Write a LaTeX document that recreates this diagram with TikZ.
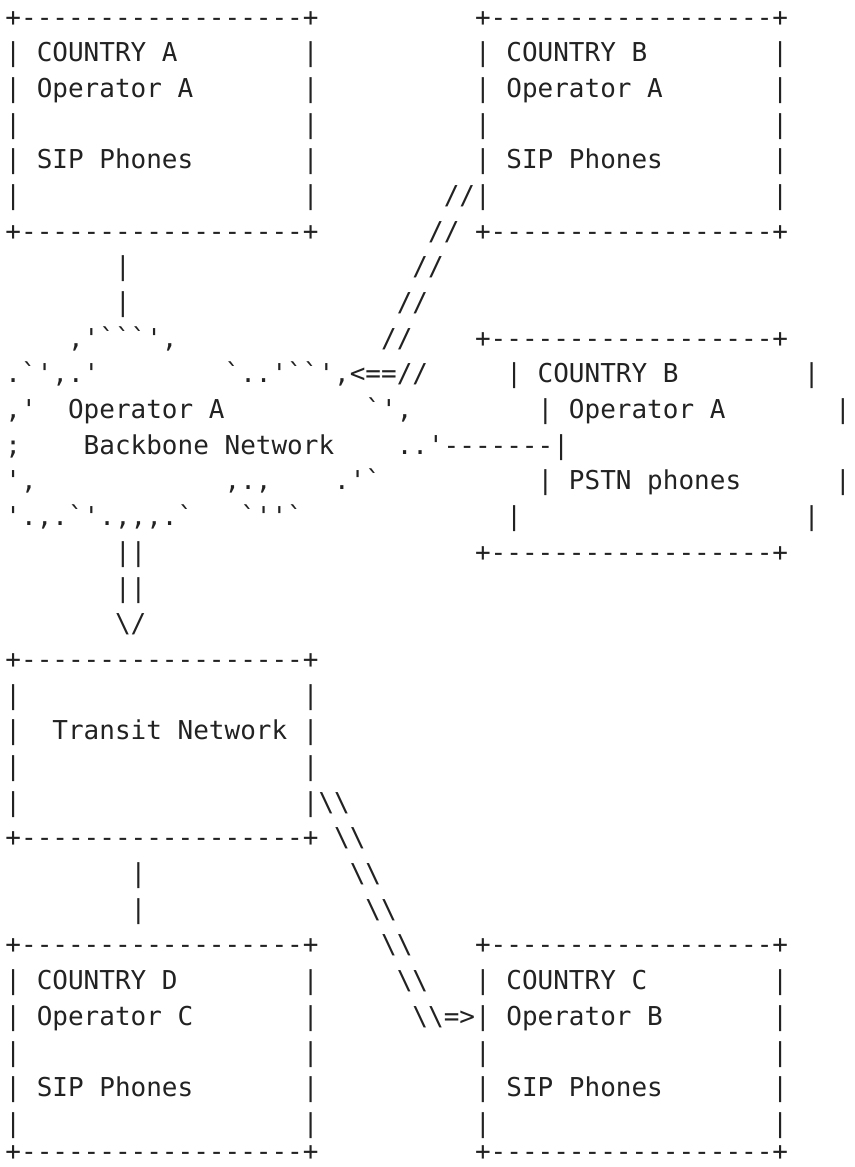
\documentclass[tikz,border=0pt]{standalone}
\usepackage{fontspec}
\setmonofont{DejaVu Sans Mono}
\definecolor{ink}{HTML}{222222}
\newcommand\gp[1]{\hspace*{#1\fontcharwd\font`x}}
\newcommand\edg{+------------------+}
\newcommand\bs{\textbackslash}
\tikzset{
  ln/.style={anchor=base west, inner sep=0pt, outer sep=0pt, text=ink,
    font=\ttfamily\fontsize{26}{30}\selectfont\frenchspacing}
}
\begin{document}
\begin{tikzpicture}[x=1pt, y=-1pt]
\useasboundingbox (0,0) rectangle (854,1167);
\node[ln] (L1)  at (5.47,26.00)   {\edg\gp{10}\edg};
\node[ln] (L2)  at (5.47,61.69)   {| COUNTRY A\gp{8}|\gp{10}| COUNTRY B\gp{8}|};
\node[ln] (L3)  at (5.47,97.38)   {| Operator A\gp{7}|\gp{10}| Operator A\gp{7}|};
\node[ln] (L4)  at (5.47,133.07)  {|\gp{18}|\gp{10}|\gp{18}|};
\node[ln] (L5)  at (5.47,168.76)  {| SIP Phones\gp{7}|\gp{10}| SIP Phones\gp{7}|};
\node[ln] (L6)  at (5.47,204.45)  {|\gp{18}|\gp{8}//|\gp{18}|};
\node[ln] (L7)  at (5.47,240.14)  {\edg\gp{7}//\gp{1}\edg};
\node[ln] (L8)  at (5.47,275.83)  {\gp{7}|\gp{18}//};
\node[ln] (L9)  at (5.47,311.52)  {\gp{7}|\gp{17}//};
\node[ln] (L10) at (5.47,347.21)  {\gp{4},'```',\gp{13}//\gp{4}\edg};
\node[ln] (L11) at (5.47,382.90)  {.`',.'\gp{8}`..'``',<==//\gp{5}| COUNTRY B\gp{8}|};
\node[ln] (L12) at (5.47,418.59)  {,'\gp{2}Operator A\gp{9}`',\gp{8}| Operator A\gp{7}|};
\node[ln] (L13) at (5.47,454.28)  {;\gp{4}Backbone Network\gp{4}..'-------|};
\node[ln] (L14) at (5.47,489.97)  {',\gp{12},.,\gp{4}.'`\gp{10}| PSTN phones\gp{6}|};
\node[ln] (L15) at (5.47,525.66)  {'.,.`'.,,,.`\gp{3}`''`\gp{13}|\gp{18}|};
\node[ln] (L16) at (5.47,561.35)  {\gp{7}||\gp{21}\edg};
\node[ln] (L17) at (5.47,597.04)  {\gp{7}||};
\node[ln] (L18) at (5.47,632.73)  {\gp{7}\bs/};
\node[ln] (L19) at (5.47,668.42)  {\edg};
\node[ln] (L20) at (5.47,704.11)  {|\gp{18}|};
\node[ln] (L21) at (5.47,739.80)  {|\gp{2}Transit Network\gp{1}|};
\node[ln] (L22) at (5.47,775.49)  {|\gp{18}|};
\node[ln] (L23) at (5.47,811.18)  {|\gp{18}|\bs\bs};
\node[ln] (L24) at (5.47,846.87)  {\edg\gp{1}\bs\bs};
\node[ln] (L25) at (5.47,882.56)  {\gp{8}|\gp{13}\bs\bs};
\node[ln] (L26) at (5.47,918.25)  {\gp{8}|\gp{14}\bs\bs};
\node[ln] (L27) at (5.47,953.94)  {\edg\gp{4}\bs\bs\gp{4}\edg};
\node[ln] (L28) at (5.47,989.63)  {| COUNTRY D\gp{8}|\gp{5}\bs\bs\gp{3}| COUNTRY C\gp{8}|};
\node[ln] (L29) at (5.47,1025.32) {| Operator C\gp{7}|\gp{6}\bs\bs=>| Operator B\gp{7}|};
\node[ln] (L30) at (5.47,1061.01) {|\gp{18}|\gp{10}|\gp{18}|};
\node[ln] (L31) at (5.47,1096.70) {| SIP Phones\gp{7}|\gp{10}| SIP Phones\gp{7}|};
\node[ln] (L32) at (5.47,1132.39) {|\gp{18}|\gp{10}|\gp{18}|};
\node[ln] (L33) at (5.47,1160.50) {\edg\gp{10}\edg};
\end{tikzpicture}
\end{document}
